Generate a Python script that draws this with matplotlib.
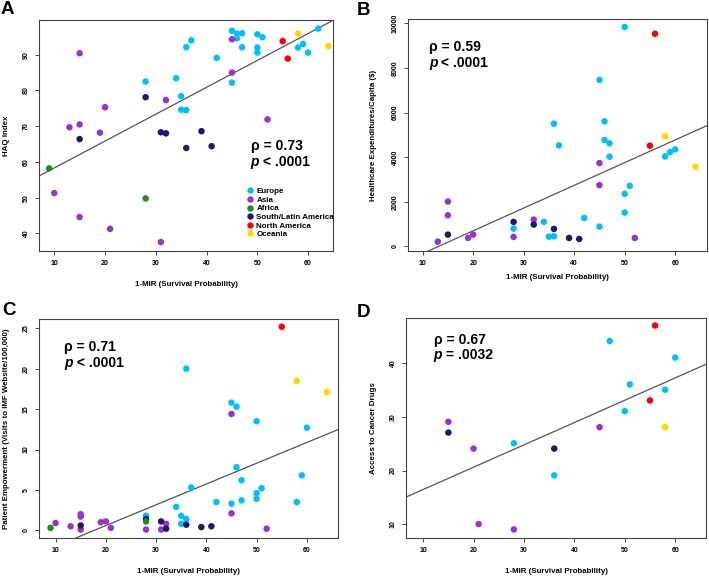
import matplotlib
matplotlib.use("Agg")
import matplotlib.pyplot as plt
from matplotlib.lines import Line2D

plt.rcParams['font.family'] = ['Liberation Sans', 'DejaVu Sans']

regions = ["Europe", "Asia", "Africa", "South/Latin America", "North America", "Oceania"]
region_colors = ["#00BFFF", "#9A32CD", "#1E8B1E", "#1A1A6E", "#FF0000", "#FFD700"]
draw_order = ["Europe", "Asia", "South/Latin America", "Africa", "North America", "Oceania"]

# ---------------- Panel A: HAQ Index ----------------
a_europe_x = [45, 46, 47, 46, 47, 50, 51, 50, 50, 42, 37, 36, 34, 28, 35, 35, 36, 45, 58, 59, 60, 62]
a_europe_y = [96.7, 95.9, 96.0, 94.6, 92.1, 95.7, 94.9, 92.0, 90.6, 89.1, 94.0, 92.1, 83.4, 82.5, 78.4,
              74.6, 74.5, 82.2, 92.0, 93.0, 90.6, 97.3]
a_asia_x = [45, 15, 45, 32, 20, 13, 15, 19, 52, 10, 15, 21, 31]
a_asia_y = [94.3, 90.4, 85.0, 77.3, 75.3, 69.7, 70.5, 68.2, 71.9, 51.3, 44.6, 41.3, 37.6]
a_africa_x = [9, 28]
a_africa_y = [58.2, 49.8]
a_sla_x = [28, 15, 31, 32, 36, 39, 41]
a_sla_y = [78.1, 66.4, 68.3, 68.0, 63.9, 68.6, 64.4]
a_na_x = [55, 56]
a_na_y = [93.8, 88.9]
a_oc_x = [58, 64]
a_oc_y = [95.9, 92.4]
a_fit = (50.8, 0.752)   # intercept, slope
a_stats = ("0.73", "<", ".0001")

# ---------------- Panel B: Healthcare expenditures ----------------
b_europe_x = [50, 45, 36, 37, 46, 46, 47, 47, 58, 59, 60, 50, 51, 50, 42, 34, 28, 35, 36, 45]
b_europe_y = [9835, 7466, 5502, 4528, 5607, 4768, 4618, 4018, 4033, 4228, 4348, 2354, 2714, 1514,
              1274, 1094, 795, 435, 450, 885]
b_asia_x = [13, 15, 15, 19, 20, 28, 32, 45, 45, 52]
b_asia_y = [210, 2009, 1394, 375, 525, 420, 1199, 3733, 2744, 375]
b_africa_x = []
b_africa_y = []
b_sla_x = [15, 28, 32, 36, 39, 41]
b_sla_y = [525, 1094, 975, 780, 375, 330]
b_na_x = [55, 56]
b_na_y = [4513, 9535]
b_oc_x = [58, 64]
b_oc_y = [4933, 3568]
b_fit = (-1342, 101.9)
b_stats = ("0.59", "<", ".0001")

# ---------------- Panel C: Patient empowerment ----------------
c_europe_x = [36, 45, 46, 50, 60, 46, 59, 47, 37, 51, 50, 50, 47, 42, 45, 58, 34, 35, 36, 35, 28]
c_europe_y = [20.0, 15.8, 15.3, 13.5, 12.7, 7.8, 6.8, 6.2, 5.3, 5.2, 4.6, 3.9, 3.7, 3.5, 3.3, 3.5,
              2.9, 1.8, 1.4, 0.8, 1.8]
c_asia_x = [45, 45, 52, 10, 13, 15, 15, 15, 19, 20, 21, 28, 31, 32]
c_asia_y = [14.4, 2.1, 0.2, 0.9, 0.5, 2.0, 1.7, 0.1, 1.0, 1.1, 0.3, 0.1, 0.1, 0.8]
c_africa_x = [9, 28]
c_africa_y = [0.3, 1.1]
c_sla_x = [15, 28, 31, 32, 36, 39, 41]
c_sla_y = [0.6, 1.4, 1.1, 0.2, 0.7, 0.4, 0.5]
c_na_x = [55]
c_na_y = [25.2]
c_oc_x = [58, 64]
c_oc_y = [18.5, 17.1]
c_fit = (-4.55, 0.257)
c_stats = ("0.71", "<", ".0001")

# ---------------- Panel D: Access to cancer drugs ----------------
d_europe_x = [47, 60, 51, 58, 50, 28, 36]
d_europe_y = [44.2, 41.1, 36.1, 35.1, 31.1, 25.1, 19.1]
d_asia_x = [15, 20, 45, 21, 28]
d_asia_y = [29.1, 24.1, 28.1, 10.0, 9.0]
d_africa_x = []
d_africa_y = []
d_sla_x = [15, 36]
d_sla_y = [27.1, 24.1]
d_na_x = [56, 55]
d_na_y = [47.1, 33.1]
d_oc_x = [58]
d_oc_y = [28.1]
d_fit = (12.29, 0.417)
d_stats = ("0.67", "=", ".0032")

x_ticks = [10, 20, 30, 40, 50, 60]
a_yticks = [40, 50, 60, 70, 80, 90]
b_yticks = [0, 2000, 4000, 6000, 8000, 10000]
c_yticks = [0, 5, 10, 15, 20, 25]
d_yticks = [10, 20, 30, 40]

xlabel = "1-MIR (Survival Probability)"
a_ylabel = "HAQ Index"
b_ylabel = "Healthcare Expenditures/Capita ($)"
c_ylabel = "Patient Empowerment (Visits to IMF Website/100,000)"
d_ylabel = "Access to Cancer Drugs"

W, H = 709, 577
fig = plt.figure(figsize=(W / 100, H / 100), dpi=100)


def px_axes(l, t, r, b):
    return fig.add_axes([l / W, 1 - b / H, (r - l) / W, (b - t) / H])


def panel(ax, data, fit, stats, xlim, ylim, yticks, ylabel, stat_pos, xlab_y, ylab_x):
    cmap = dict(zip(regions, region_colors))
    for reg in draw_order:
        xs, ys = data[reg]
        if len(xs):
            ax.scatter(xs, ys, s=22, color=cmap[reg], edgecolors='none', zorder=3)
    ax.axline((0, fit[0]), slope=fit[1], color='#555555', lw=0.9, zorder=2)
    ax.set_xlim(*xlim)
    ax.set_ylim(*ylim)
    ax.set_xticks(x_ticks)
    ax.set_yticks(yticks)
    for s in ax.spines.values():
        s.set_color('#444444')
        s.set_linewidth(0.8)
    ax.tick_params(length=3.1, width=0.7, color='#444444', labelsize=5, pad=3.5)
    ax.tick_params(axis='y', labelrotation=90)
    for lab in ax.get_xticklabels() + ax.get_yticklabels():
        lab.set_fontweight('bold')
    for lab in ax.get_yticklabels():
        lab.set_va('center')
    ax.set_xlabel(xlabel, fontsize=5.7, fontweight='bold')
    ax.set_ylabel(ylabel, fontsize=5.7, fontweight='bold')
    ax.xaxis.set_label_coords(0.5, xlab_y)
    ax.yaxis.set_label_coords(ylab_x, 0.5)
    ax.xaxis.label.set_va('center')
    ax.yaxis.label.set_va('center')
    sx, sy1, sy2 = stat_pos
    ax.text(sx, sy1, "ρ = " + stats[0], transform=ax.transAxes, fontsize=10,
            fontweight='bold', va='center', ha='left')
    t = ax.text(sx, sy2, "p", transform=ax.transAxes, fontsize=10, fontweight='bold',
                style='italic', va='center', ha='left')
    ax.annotate(" " + stats[1] + " " + stats[2], xy=(1, 0), xycoords=t, fontsize=10,
                fontweight='bold', va='bottom', ha='left')


def mk(ex, ey, ax_, ay, afx, afy, sx, sy, nx, ny, ox, oy):
    return {"Europe": (ex, ey), "Asia": (ax_, ay), "Africa": (afx, afy),
            "South/Latin America": (sx, sy), "North America": (nx, ny), "Oceania": (ox, oy)}


axA = px_axes(39, 20, 333, 251)
panel(axA, mk(a_europe_x, a_europe_y, a_asia_x, a_asia_y, a_africa_x, a_africa_y, a_sla_x, a_sla_y,
              a_na_x, a_na_y, a_oc_x, a_oc_y),
      a_fit, a_stats, (7.0, 64.9), (35.1, 99.7), a_yticks, a_ylabel,
      (0.72, 0.455, 0.385), -0.145, -0.112)

axB = px_axes(408, 19, 707, 251)
panel(axB, mk(b_europe_x, b_europe_y, b_asia_x, b_asia_y, b_africa_x, b_africa_y, b_sla_x, b_sla_y,
              b_na_x, b_na_y, b_oc_x, b_oc_y),
      b_fit, b_stats, (7.1, 66.3), (-210, 10195), b_yticks, b_ylabel,
      (0.07, 0.88, 0.81), -0.113, -0.117)

axC = px_axes(39, 319, 338, 538)
panel(axC, mk(c_europe_x, c_europe_y, c_asia_x, c_asia_y, c_africa_x, c_africa_y, c_sla_x, c_sla_y,
              c_na_x, c_na_y, c_oc_x, c_oc_y),
      c_fit, c_stats, (6.7, 66.2), (-0.95, 26.15), c_yticks, c_ylabel,
      (0.084, 0.874, 0.80), -0.153, -0.108)

axD = px_axes(406, 318, 706, 538)
panel(axD, mk(d_europe_x, d_europe_y, d_asia_x, d_asia_y, d_africa_x, d_africa_y, d_sla_x, d_sla_y,
              d_na_x, d_na_y, d_oc_x, d_oc_y),
      d_fit, d_stats, (6.6, 66.1), (7.4, 48.5), d_yticks, d_ylabel,
      (0.092, 0.90, 0.83), -0.152, -0.107)

# legend in panel A
handles = [Line2D([], [], marker='o', linestyle='none', markersize=4.6, markerfacecolor=c,
                  markeredgecolor='none') for c in region_colors]
leg = axA.legend(handles, regions, loc='upper left', bbox_to_anchor=(0.704, 0.275), frameon=False,
                 prop={'size': 5.8, 'weight': 'bold'}, handlelength=1.0, handletextpad=0.3,
                 labelspacing=0.12, borderpad=0, borderaxespad=0)

for letter, (lx, ly) in zip("ABCD", [(1, 1), (357, 2), (2, 302), (357, 304)]):
    fig.text(lx / W, 1 - ly / H, letter, fontsize=13.5, fontweight='bold', ha='left', va='top')

fig.savefig("out.png", dpi=100)
